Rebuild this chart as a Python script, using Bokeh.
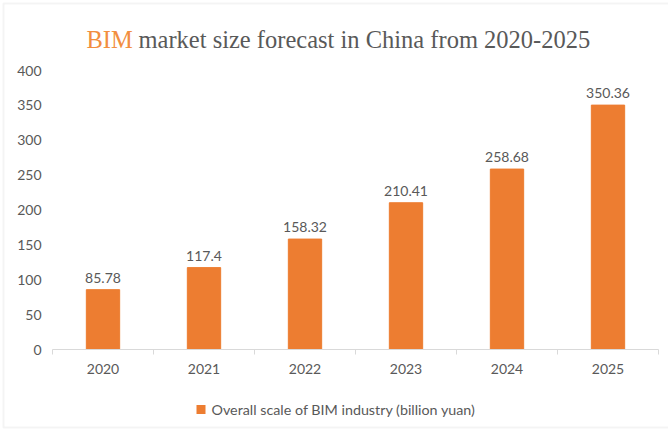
from bokeh.plotting import figure
from bokeh.models import ColumnDataSource, Range1d, Label, BoxAnnotation
from bokeh.core.properties import value
from bokeh.embed import file_html
from bokeh.resources import INLINE

years = ["2020", "2021", "2022", "2023", "2024", "2025"]
sizes = [85.78, 117.4, 158.32, 210.41, 258.68, 350.36]
size_labels = ["85.78", "117.4", "158.32", "210.41", "258.68", "350.36"]
y_ticks = [0, 50, 100, 150, 200, 250, 300, 350, 400]
y_tick_labels = ["0", "50", "100", "150", "200", "250", "300", "350", "400"]
series_name = "Overall scale of BIM industry (billion yuan)"

# layout constants (pixels) of the plotting area inside the 668x429 canvas
W, H = 668, 429
PLOT_L, PLOT_R, PLOT_T, PLOT_B = 52, 658, 70, 349
Y_MAX = 400
n = len(years)
px_x = (PLOT_R - PLOT_L) / n          # pixels per category
px_y = (PLOT_B - PLOT_T) / Y_MAX      # pixels per unit

# the frame covers the whole canvas; ranges are extended so that the
# category band 0..n and the value band 0..400 land on the plotting area
x_range = Range1d(-PLOT_L / px_x, n + (W - PLOT_R) / px_x)
y_range = Range1d(-(H - PLOT_B) / px_y, Y_MAX + PLOT_T / px_y)

p = figure(width=W, height=H, output_backend="svg", toolbar_location=None,
           x_range=x_range, y_range=y_range, min_border=0,
           outline_line_color=None, background_fill_color="white",
           border_fill_color="white")
p.axis.visible = False
p.grid.visible = False

FONT = "Lato"
ORANGE = "#ED7D31"
GREY = "#595959"

xs = [i + 0.5 for i in range(n)]
src = ColumnDataSource(dict(x=xs, top=sizes, lab=size_labels, year=years,
                            zero=[0] * n))

# bars + value labels
p.vbar(x="x", top="top", width=0.33, source=src, color=ORANGE)
p.text(x="x", y="top", text="lab", source=src, text_align="center",
       text_baseline="bottom", y_offset=-7, text_color=GREY,
       text_font=value(FONT), text_font_size="14px")

# category axis: line, boundary ticks, labels
bounds = list(range(n + 1))
p.segment(x0=[0], y0=[0], x1=[n], y1=[0], line_color="#D9D9D9", line_width=1)
p.segment(x0=bounds, y0=[0] * len(bounds), x1=bounds,
          y1=[-5 / px_y] * len(bounds), line_color="#D9D9D9", line_width=1)
p.text(x="x", y="zero", text="year", source=src, text_align="center",
       text_baseline="middle", y_offset=19, text_color=GREY,
       text_font=value(FONT), text_font_size="14px")

# value axis labels
p.text(x=[0] * len(y_ticks), y=y_ticks, text=y_tick_labels, text_align="right",
       text_baseline="middle", x_offset=-11, text_color=GREY,
       text_font=value(FONT), text_font_size="14px")

# title in two colours (screen units: from the canvas bottom-left, y upwards)
TITLE_BASE = H - 39
p.add_layout(Label(x=86, y=TITLE_BASE, x_units="screen", y_units="screen", text="BIM",
                   text_font="Liberation Serif", text_font_size="24.5px",
                   text_color="#F28E3F", text_baseline="alphabetic"))
p.add_layout(Label(x=138, y=TITLE_BASE, x_units="screen", y_units="screen",
                   text="market size forecast in China from 2020-2025",
                   text_font="Liberation Serif", text_font_size="24.5px",
                   text_color=GREY, text_baseline="alphabetic"))

# legend
LEG_Y = H - 409
p.add_layout(BoxAnnotation(left=196, right=205, bottom=LEG_Y - 4.5, top=LEG_Y + 4.5,
                           left_units="screen", right_units="screen",
                           bottom_units="screen", top_units="screen",
                           fill_color=ORANGE, fill_alpha=1, line_color=None))
p.add_layout(Label(x=211, y=LEG_Y, x_units="screen", y_units="screen",
                   text=series_name, text_font=FONT, text_font_size="14.3px",
                   text_color=GREY, text_baseline="middle"))

# outer frame of the picture
p.add_layout(BoxAnnotation(left=3, right=W + 10, bottom=2, top=H - 3,
                           left_units="screen", right_units="screen",
                           bottom_units="screen", top_units="screen",
                           fill_alpha=0, line_color="#DCDCDC", line_width=2))

open("out.html", "w").write(file_html(p, INLINE))
